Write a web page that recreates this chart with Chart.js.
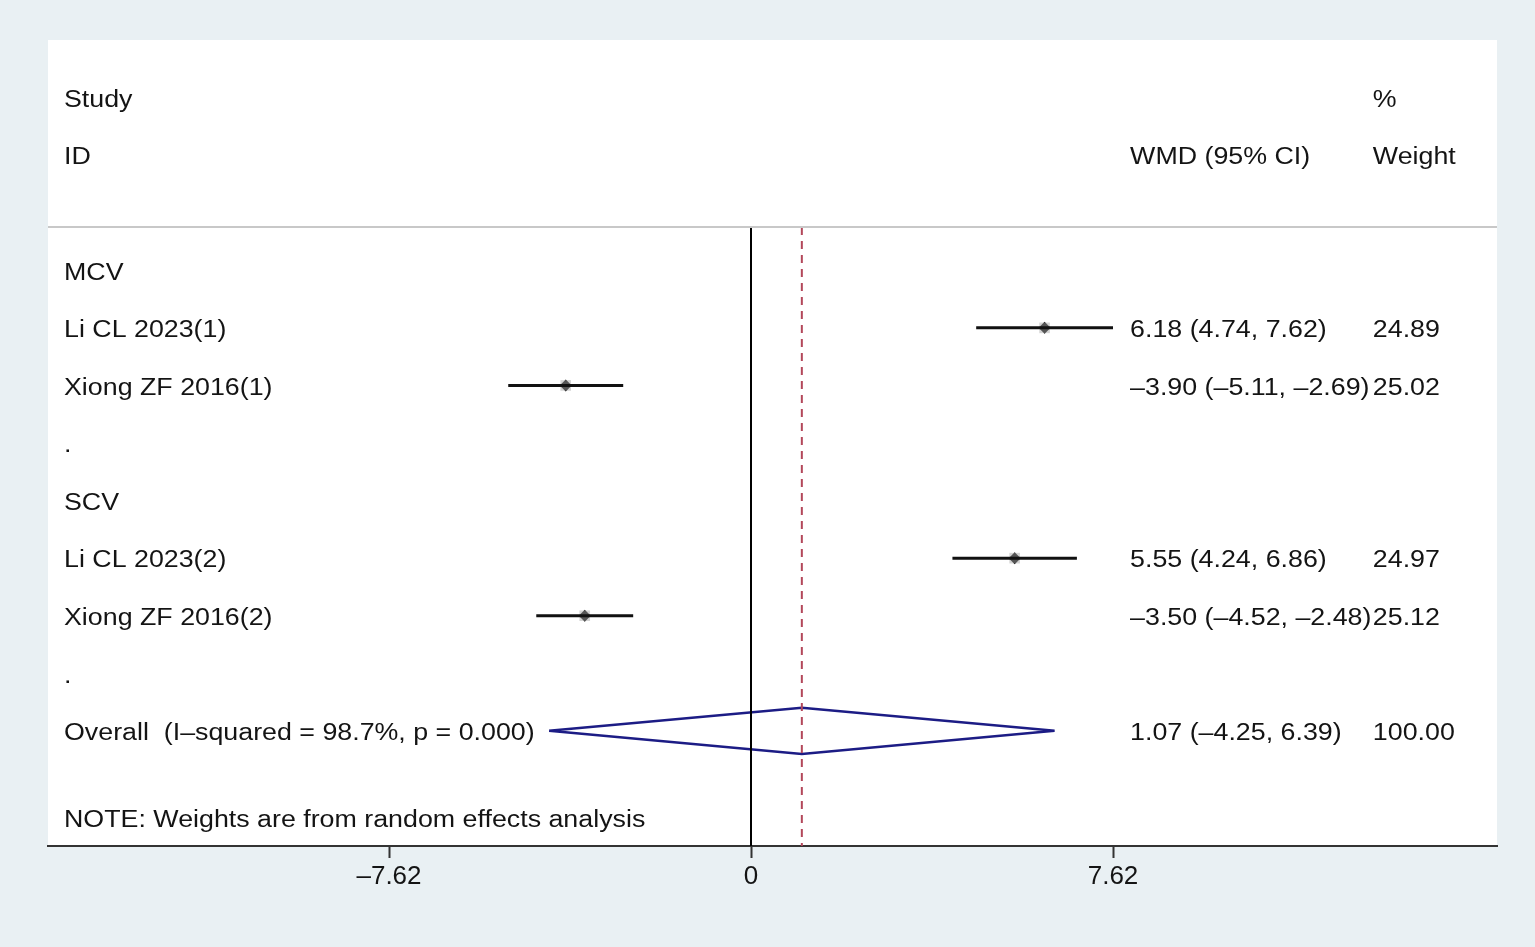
<!DOCTYPE html>
<html>
<head>
<meta charset="utf-8">
<script src="https://cdn.jsdelivr.net/npm/chart.js@4.4.1/dist/chart.umd.min.js"></script>
<style>
  html, body { margin: 0; padding: 0; background: #e9f0f3; }
  #wrap { width: 1535px; height: 947px; }
</style>
</head>
<body>
<div id="wrap"><canvas id="forest"></canvas></div>
<script>
// Filas de texto (columna izquierda), fila 4..12
const rowLabels = ['MCV', 'Li CL 2023(1)', 'Xiong ZF 2016(1)', '.', 'SCV',
                   'Li CL 2023(2)', 'Xiong ZF 2016(2)', '.', 'Overall  (I\u2013squared = 98.7%, p = 0.000)'];
const rowIndex = [4, 5, 6, 7, 8, 9, 10, 11, 12];

// Estudios individuales
const studyRows = [5, 6, 9, 10];
const wmd = [6.18, -3.90, 5.55, -3.50];
const ciLow = [4.74, -5.11, 4.24, -4.52];
const ciHigh = [7.62, -2.69, 6.86, -2.48];
const weights = ['24.89', '25.02', '24.97', '25.12'];

// Efecto combinado
const overallRow = 12;
const overallEst = 1.07;
const overallLow = -4.25;
const overallHigh = 6.39;
const overallWeight = '100.00';

// Eje x
const tickValues = [-7.62, 0, 7.62];
const tickLabels = ['\u20137.62', '0', '7.62'];

const X_MIN = -14.798, X_MAX = 15.703;
const COL_WMD = 7.98, COL_W = 13.09;
const FONT = '"Liberation Sans", Arial, sans-serif';
const TEXT_COLOR = '#141414';

const fmt = v => (v < 0 ? '\u2013' : '') + Math.abs(v).toFixed(2);

// Segmentos de IC con huecos
const ciData = [];
studyRows.forEach((r, i) => {
    ciData.push({x: ciLow[i], y: r}, {x: ciHigh[i], y: r}, {x: ciHigh[i], y: null});
});

const diamondData = [
    {x: overallLow, y: overallRow},
    {x: overallEst, y: overallRow - 0.4},
    {x: overallHigh, y: overallRow},
    {x: overallEst, y: overallRow + 0.4},
    {x: overallLow, y: overallRow}
];

const points = studyRows.map((r, i) => ({x: wmd[i], y: r}));

// Fondo blanco del panel
const panelPlugin = {
    id: 'panel',
    beforeDraw(chart) {
        const {ctx, chartArea: a} = chart;
        ctx.save();
        ctx.fillStyle = '#ffffff';
        ctx.fillRect(a.left, a.top, a.right - a.left, a.bottom - a.top);
        ctx.restore();
    }
};

// Textos de las columnas
const textPlugin = {
    id: 'forestText',
    afterDraw(chart) {
        const {ctx, chartArea: a, scales: {x, y}} = chart;
        const draw = (txt, px, py) => {
            ctx.save();
            ctx.translate(px, py + 3);
            ctx.scale(1.165, 1);
            ctx.fillText(txt, 0, 0);
            ctx.restore();
        };
        ctx.save();
        ctx.font = '23px ' + FONT;
        ctx.fillStyle = TEXT_COLOR;
        ctx.textBaseline = 'middle';
        ctx.textAlign = 'left';
        const left = a.left + 16;
        draw('Study', left, y.getPixelForValue(1));
        draw('ID', left, y.getPixelForValue(2));
        draw('%', x.getPixelForValue(COL_W), y.getPixelForValue(1));
        draw('WMD (95% CI)', x.getPixelForValue(COL_WMD), y.getPixelForValue(2));
        draw('Weight', x.getPixelForValue(COL_W), y.getPixelForValue(2));
        rowLabels.forEach((t, i) => draw(t, left, y.getPixelForValue(rowIndex[i])));
        studyRows.forEach((r, i) => {
            const py = y.getPixelForValue(r);
            draw(`${fmt(wmd[i])} (${fmt(ciLow[i])}, ${fmt(ciHigh[i])})`, x.getPixelForValue(COL_WMD), py);
            draw(weights[i], x.getPixelForValue(COL_W), py);
        });
        const oy = y.getPixelForValue(overallRow);
        draw(`${fmt(overallEst)} (${fmt(overallLow)}, ${fmt(overallHigh)})`, x.getPixelForValue(COL_WMD), oy);
        draw(overallWeight, x.getPixelForValue(COL_W), oy);
        draw('NOTE: Weights are from random effects analysis', left, y.getPixelForValue(13.5));
        ctx.restore();
    }
};

new Chart(document.getElementById('forest'), {
    type: 'scatter',
    data: {
        datasets: [
            {   // línea de cabecera
                data: [{x: X_MIN, y: 3.25}, {x: X_MAX, y: 3.25}],
                showLine: true, borderColor: '#c8c8c8', borderWidth: 2, pointRadius: 0
            },
            {   // línea de no efecto
                data: [{x: 0, y: 3.25}, {x: 0, y: 14}],
                showLine: true, borderColor: '#000000', borderWidth: 2, pointRadius: 0
            },
            {   // línea del efecto combinado
                data: [{x: overallEst, y: 3.25}, {x: overallEst, y: 14}],
                showLine: true, borderColor: '#b3475a', borderWidth: 2, borderDash: [8, 6], pointRadius: 0
            },
            {   // intervalos de confianza
                data: ciData,
                showLine: true, spanGaps: false, borderColor: '#111111', borderWidth: 3, pointRadius: 0
            },
            {   // cajas de peso
                data: points,
                pointStyle: 'rect', pointRadius: 7.5, backgroundColor: 'rgba(170,170,170,0.5)', borderWidth: 0
            },
            {   // estimaciones puntuales
                data: points,
                pointStyle: 'rectRot', pointRadius: 6, backgroundColor: '#000000', borderWidth: 0
            },
            {   // diamante
                data: diamondData,
                showLine: true, borderColor: '#1c1c85', borderWidth: 2.5, pointRadius: 0, fill: false
            }
        ]
    },
    options: {
        responsive: true,
        maintainAspectRatio: false,
        animation: false,
        events: [],
        layout: { padding: { left: 48, right: 38, top: 40, bottom: 0 } },
        plugins: { legend: { display: false }, tooltip: { enabled: false } },
        scales: {
            x: {
                type: 'linear', min: X_MIN, max: X_MAX,
                afterBuildTicks: s => { s.ticks = tickValues.map(v => ({value: v})); },
                afterFit: s => { s.height = 101; },
                grid: { drawOnChartArea: false, drawTicks: true, tickLength: 12, tickColor: '#333333', tickWidth: 2 },
                border: { display: true, color: '#333333', width: 2 },
                ticks: {
                    padding: 3, color: TEXT_COLOR, maxRotation: 0, autoSkip: false,
                    font: { family: FONT, size: 26 },
                    callback: (v) => tickLabels[tickValues.indexOf(v)] ?? ''
                }
            },
            y: {
                type: 'linear', min: 0, max: 14, reverse: true, display: false
            }
        }
    },
    plugins: [panelPlugin, textPlugin]
});
</script>
</body>
</html>
